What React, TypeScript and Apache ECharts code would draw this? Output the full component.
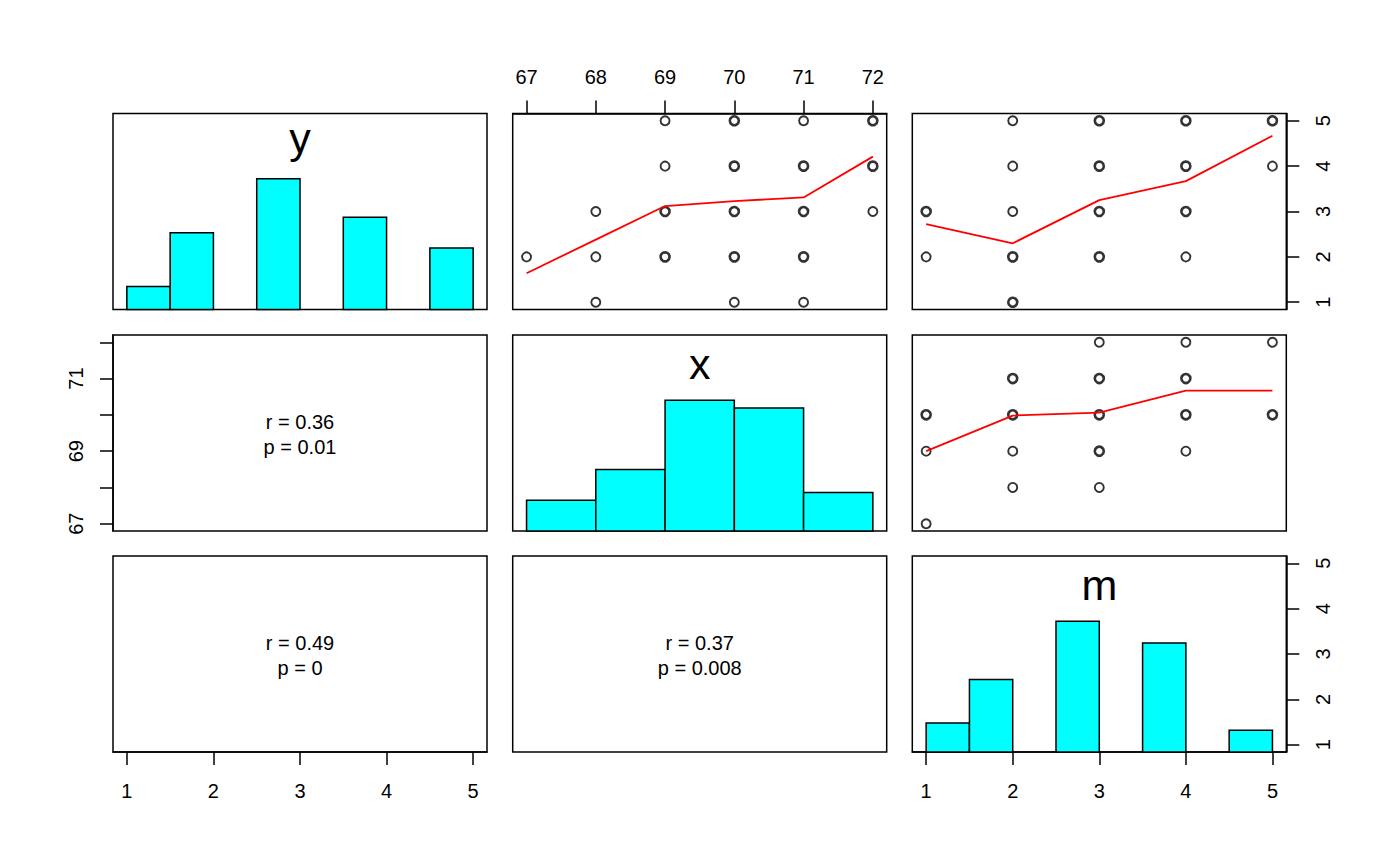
import React, { useEffect, useRef } from 'react';
import * as echarts from 'echarts';

// ---------- data ----------
const varNames = ['y', 'x', 'm'];
const yTicks = [1, 2, 3, 4, 5];
const xTicks = [67, 68, 69, 70, 71, 72];
const xLabelTicksLeft = [67, 69, 71];
const mTicks = [1, 2, 3, 4, 5];

// histograms: [binStart, binEnd, count]
const histY = [[1, 1.5, 3], [1.5, 2, 10], [2.5, 3, 17], [3.5, 4, 12], [4.5, 5, 8]];
const histX = [[67, 68, 4], [68, 69, 8], [69, 70, 17], [70, 71, 16], [71, 72, 5]];
const histM = [[1, 1.5, 4], [1.5, 2, 10], [2.5, 3, 18], [3.5, 4, 15], [4.5, 5, 3]];

// scatter points: [horizontal, vertical, overplotted(2) or single(1)]
const ptsXY = [
  [67, 2, 1], [68, 3, 1], [68, 2, 1], [68, 1, 1],
  [69, 5, 1], [69, 4, 1], [69, 3, 2], [69, 2, 2],
  [70, 5, 2], [70, 4, 2], [70, 3, 2], [70, 2, 2], [70, 1, 1],
  [71, 5, 1], [71, 4, 2], [71, 3, 2], [71, 2, 2], [71, 1, 1],
  [72, 5, 2], [72, 4, 2], [72, 3, 1],
];
const ptsMY = [
  [1, 3, 2], [1, 2, 1],
  [2, 5, 1], [2, 4, 1], [2, 3, 1], [2, 2, 2], [2, 1, 2],
  [3, 5, 2], [3, 4, 2], [3, 3, 2], [3, 2, 2],
  [4, 5, 2], [4, 4, 2], [4, 3, 2], [4, 2, 1],
  [5, 5, 2], [5, 4, 1],
];
const ptsMX = [
  [1, 70, 2], [1, 69, 1], [1, 67, 1],
  [2, 71, 2], [2, 70, 2], [2, 69, 1], [2, 68, 1],
  [3, 72, 1], [3, 71, 2], [3, 70, 2], [3, 69, 2], [3, 68, 1],
  [4, 72, 1], [4, 71, 2], [4, 70, 2], [4, 69, 1],
  [5, 72, 1], [5, 70, 2],
];

// smoothed (lowess) lines
const smoothXY = [[67, 1.64], [68, 2.38], [69, 3.12], [70, 3.23], [71, 3.31], [72, 4.21]];
const smoothMY = [[1, 2.72], [2, 2.3], [3, 3.25], [4, 3.67], [5, 4.67]];
const smoothMX = [[1, 69.0], [2, 69.98], [3, 70.06], [4, 70.67], [5, 70.67]];

// correlations (lower panels): y-x, y-m, x-m
const corrR = ['0.36', '0.49', '0.37'];
const corrP = ['0.01', '0', '0.008'];

// ---------- layout ----------
const FONT = 'Liberation Sans';
const LEFTS = [113, 512.7, 912.3];
const TOPS = [113.5, 335, 556];
const PW = 374;
const PH = 196;

const varTicks = [yTicks, xTicks, mTicks];
const pad = (t: number[]) => {
  const lo = Math.min(...t), hi = Math.max(...t);
  const d = (hi - lo) * 0.04;
  return [lo - d, hi + d];
};
const ranges = varTicks.map(pad);
const hists = [histY, histX, histM];

const hiddenAxis = {
  axisLine: { show: false, onZero: false },
  axisTick: { show: false },
  axisLabel: { show: false },
  splitLine: { show: false },
};

const visAxis = (position: string, ticks: number[], labels: number[], margin: number, rotate = 0) => ({
  position,
  axisLine: { show: true, onZero: false, lineStyle: { color: '#000', width: 1.5 } },
  axisTick: { show: true, inside: false, length: 13, customValues: ticks, lineStyle: { color: '#000', width: 1.5 } },
  axisLabel: {
    show: true, customValues: labels, margin, rotate,
    color: '#000', fontSize: 20, fontFamily: FONT,
  },
  splitLine: { show: false },
});

export default function App() {
  const ref = useRef<HTMLDivElement>(null);
  useEffect(() => {
    if (!ref.current) return;
    const chart = echarts.init(ref.current, null, { renderer: 'svg' });

    const grids: any[] = [];
    const xAxes: any[] = [];
    const yAxes: any[] = [];
    const series: any[] = [];
    const graphics: any[] = [];

    for (let r = 0; r < 3; r++) {
      for (let c = 0; c < 3; c++) {
        const g = r * 3 + c;
        grids.push({
          left: LEFTS[c], top: TOPS[r], width: PW, height: PH,
          show: true, borderColor: '#000', borderWidth: 1.5, backgroundColor: 'transparent',
          containLabel: false,
        });
        xAxes.push({ type: 'value', gridIndex: g, min: ranges[c][0], max: ranges[c][1], ...hiddenAxis });
        if (r === c) {
          const maxCount = Math.max(...hists[r].map((h) => h[2]));
          yAxes.push({ type: 'value', gridIndex: g, min: 0, max: maxCount * 1.5, ...hiddenAxis });
        } else {
          yAxes.push({ type: 'value', gridIndex: g, min: ranges[r][0], max: ranges[r][1], ...hiddenAxis });
        }
      }
    }
    // visible axes
    Object.assign(xAxes[1], visAxis('top', xTicks, xTicks, 27));
    Object.assign(yAxes[2], visAxis('right', yTicks, yTicks, 27, 90));
    Object.assign(yAxes[3], visAxis('left', xTicks, xLabelTicksLeft, 27, 90));
    Object.assign(xAxes[6], visAxis('bottom', yTicks, yTicks, 29));
    Object.assign(xAxes[8], visAxis('bottom', mTicks, mTicks, 29));
    // extra right axis for the m row on the m histogram panel
    yAxes.push({ type: 'value', gridIndex: 8, min: ranges[2][0], max: ranges[2][1], ...hiddenAxis });
    Object.assign(yAxes[9], visAxis('right', mTicks, mTicks, 27, 90));

    // histograms
    for (let i = 0; i < 3; i++) {
      const g = i * 3 + i;
      series.push({
        type: 'custom',
        xAxisIndex: g, yAxisIndex: g,
        data: hists[i],
        encode: { x: [0, 1], y: 2 },
        renderItem: (_p: any, api: any) => {
          const lo = api.value(0), hi = api.value(1), n = api.value(2);
          const a = api.coord([lo, 0]);
          const b = api.coord([hi, n]);
          return {
            type: 'rect',
            shape: { x: a[0], y: b[1], width: b[0] - a[0], height: a[1] - b[1] },
            style: { fill: '#00ffff', stroke: '#000', lineWidth: 1.5 },
          };
        },
        z: 2,
      });
      graphics.push({
        type: 'text',
        x: LEFTS[i] + PW / 2,
        y: TOPS[i] + (varNames[i] === 'y' ? 24 : 29),
        style: {
          text: varNames[i], fill: '#000', font: `43px "${FONT}"`,
          textAlign: 'center', textVerticalAlign: 'middle',
        },
      });
    }

    // scatter panels (upper)
    const scat = (g: number, pts: number[][], smooth: number[][]) => {
      series.push({
        type: 'scatter',
        xAxisIndex: g, yAxisIndex: g,
        symbol: 'circle', symbolSize: 9,
        data: pts.map((p) => ({
          value: [p[0], p[1]],
          itemStyle: { color: 'transparent', borderColor: '#000', borderWidth: p[2] > 1 ? 2.6 : 1.9 },
        })),
        z: 3,
      });
      series.push({
        type: 'line',
        xAxisIndex: g, yAxisIndex: g,
        data: smooth,
        showSymbol: false, symbol: 'none',
        lineStyle: { color: '#ff0000', width: 1.8 },
        z: 4,
      });
    };
    scat(1, ptsXY, smoothXY);
    scat(2, ptsMY, smoothMY);
    scat(5, ptsMX, smoothMX);

    // lower panels: correlation text
    const lower = [[1, 0], [2, 0], [2, 1]];
    lower.forEach(([r, c], i) => {
      const cx = LEFTS[c] + PW / 2;
      const cy = TOPS[r] + PH / 2;
      graphics.push({
        type: 'text', x: cx, y: cy - 11,
        style: { text: `r = ${corrR[i]}`, fill: '#000', font: `20px "${FONT}"`, textAlign: 'center', textVerticalAlign: 'middle' },
      });
      graphics.push({
        type: 'text', x: cx, y: cy + 14,
        style: { text: `p = ${corrP[i]}`, fill: '#000', font: `20px "${FONT}"`, textAlign: 'center', textVerticalAlign: 'middle' },
      });
    });

    chart.setOption({
      animation: false,
      backgroundColor: '#ffffff',
      textStyle: { fontFamily: FONT },
      grid: grids,
      xAxis: xAxes,
      yAxis: yAxes,
      series,
      graphic: graphics,
    });
    return () => chart.dispose();
  }, []);

  return (
    <div
      ref={ref}
      style={{ position: 'absolute', left: 0, top: 0, width: 1400, height: 866, background: '#fff' }}
    />
  );
}
